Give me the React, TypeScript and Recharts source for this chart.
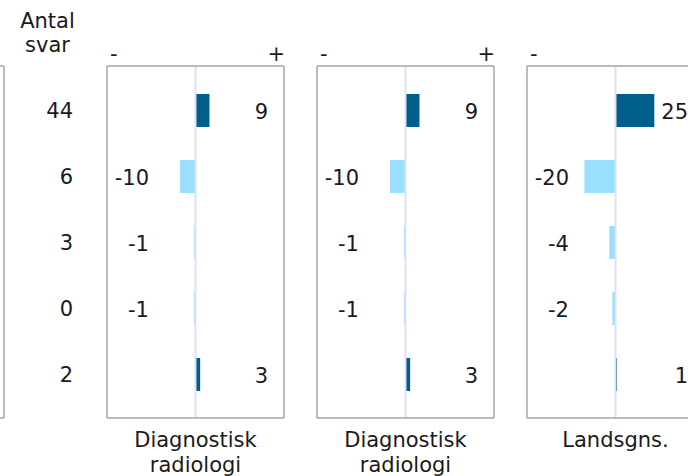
import React from "react";
import { BarChart, Bar, XAxis, YAxis, Cell, LabelList, ReferenceLine } from "recharts";

// rows of the question block (row names sit outside the visible crop)
const rows = ["r1", "r2", "r3", "r4", "r5"];
const antalSvar = [44, 6, 3, 0, 2];

const radiologiA = [9, -10, -1, -1, 3];
const radiologiB = [9, -10, -1, -1, 3];
const landsgns = [25, -20, -4, -2, 1];

const panelNames = [["Diagnostisk", "radiologi"], ["Diagnostisk", "radiologi"], ["Landsgns."]];
const signTicks = [-57, 57];

const DARK = "#005f8a";
const LIGHT = "#99dfff";
const BORDER = "#a6a6a6";
const MID = "#e0e0f6";
const TEXT = "#1a1a1a";
const FONT = "'DejaVu Sans', Verdana, sans-serif";

const PANEL_W = 177;
const PAD_L = 120;
const PAD_R = 40;
const TOP = 66;
const H = 476;
const BOTTOM = 58;
const AX = 10; // room taken by each (invisible-tick) axis

const SignTick = (props: any) => {
  const { x, payload } = props;
  const neg = payload.value < 0;
  return (
    <text x={neg ? x + 3 : x + 1} y={TOP - 5} textAnchor={neg ? "start" : "end"} fontSize={21} fill={TEXT} fontFamily={FONT}>
      {neg ? "-" : "+"}
    </text>
  );
};

const makeCountTick = (counts: number[]) => (props: any) => {
  const { y, payload } = props;
  const i = rows.indexOf(payload.value);
  return (
    <text x={PAD_L - 34} y={y + 8} textAnchor="end" fontSize={21} fill={TEXT} fontFamily={FONT}>
      {counts[i]}
    </text>
  );
};

const ValueLabel = (props: any) => {
  const { x, y, width, height, value } = props;
  if (value == null) return null;
  const a = Number(x);
  const b = Number(x) + Number(width);
  const center = value >= 0 ? Math.min(a, b) : Math.max(a, b);
  const tx = value >= 0 ? center + 72.5 : center - 46.5;
  return (
    <text x={tx} y={Number(y) + Number(height) / 2 + 8} textAnchor="end" fontSize={21} fill={TEXT} fontFamily={FONT}>
      {value}
    </text>
  );
};

function Panel({ left, values, counts }: { left: number; values?: number[]; counts?: number[] }) {
  const data = rows.map((r, i) => ({ row: r, v: values ? values[i] : 0 }));
  const line = { stroke: BORDER, strokeWidth: 1.5 };
  return (
    <div style={{ position: "absolute", left: left - PAD_L, top: 0 }}>
      <BarChart
        layout="vertical"
        width={PAD_L + PANEL_W + PAD_R}
        height={H}
        data={data}
        margin={{ top: TOP - AX, bottom: BOTTOM - AX, left: PAD_L - AX, right: PAD_R - AX }}
      >
        <XAxis xAxisId="b" type="number" domain={[-57, 57]} orientation="bottom" height={AX} tick={false} tickLine={false} axisLine={line} />
        <XAxis
          xAxisId="t"
          type="number"
          domain={[-57, 57]}
          allowDataOverflow
          orientation="top"
          height={AX}
          ticks={signTicks}
          interval={0}
          tickLine={false}
          axisLine={line}
          tick={values ? <SignTick /> : false}
        />
        <YAxis
          yAxisId="l"
          type="category"
          dataKey="row"
          width={AX}
          padding={{ top: 11, bottom: 11 }}
          axisLine={line}
          tickLine={false}
          interval={0}
          tick={counts ? makeCountTick(counts) : false}
        />
        <YAxis yAxisId="r" orientation="right" type="category" dataKey="row" width={AX} padding={{ top: 11, bottom: 11 }} axisLine={line} tickLine={false} tick={false} />
        <ReferenceLine xAxisId="t" yAxisId="l" x={0} stroke={values ? MID : "none"} strokeWidth={2} />
        <Bar xAxisId="t" yAxisId="l" dataKey="v" barSize={33} isAnimationActive={false}>
          {data.map((d, i) => (
            <Cell key={i} fill={d.v >= 0 ? DARK : LIGHT} />
          ))}
          {values && <LabelList dataKey="v" content={<ValueLabel />} />}
        </Bar>
      </BarChart>
    </div>
  );
}

const panelLefts = [107, 317, 527];
const panelValues = [radiologiA, radiologiB, landsgns];

export default function App() {
  return (
    <div
      style={{
        position: "absolute",
        left: 0,
        top: 0,
        width: 688,
        height: H,
        overflow: "hidden",
        background: "#fff",
        fontFamily: FONT,
        fontSize: 21,
        color: TEXT,
      }}
    >
      <div style={{ position: "absolute", left: 0, top: 9, width: 95, textAlign: "center", lineHeight: "24px" }}>
        Antal
        <br />
        svar
      </div>
      <Panel left={-173} />
      {panelLefts.map((l, i) => (
        <Panel key={i} left={l} values={panelValues[i]} counts={i === 0 ? antalSvar : undefined} />
      ))}
      {panelLefts.map((l, i) => (
        <div
          key={"n" + i}
          style={{ position: "absolute", left: l, top: 427.5, width: PANEL_W, textAlign: "center", lineHeight: "25.5px", whiteSpace: "nowrap" }}
        >
          {panelNames[i].map((t, j) => (
            <div key={j}>{t}</div>
          ))}
        </div>
      ))}
    </div>
  );
}
